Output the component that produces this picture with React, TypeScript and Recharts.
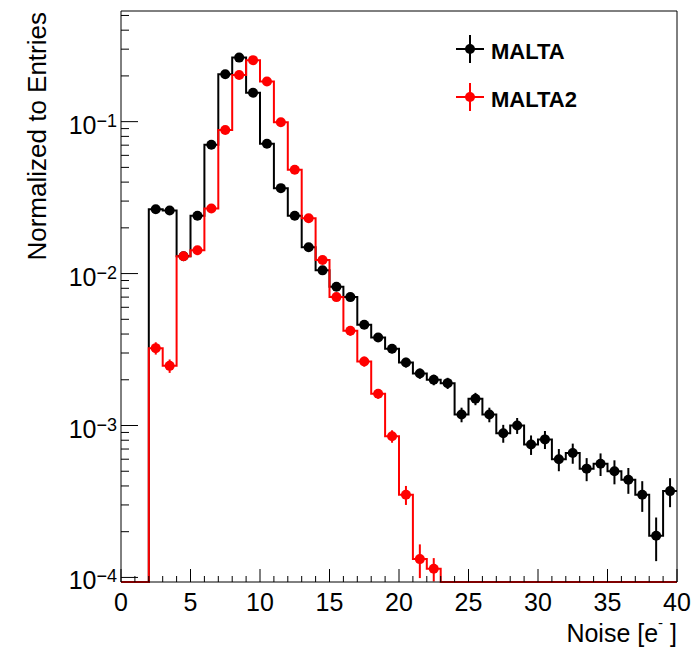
import { ComposedChart, Line, Scatter, XAxis, YAxis, ErrorBar, Legend } from "recharts"

// bin lower edges (width 1) of the noise histogram
const BIN_LOW = [
  0, 1, 2, 3, 4, 5, 6, 7, 8, 9, 10, 11, 12, 13, 14, 15, 16, 17, 18, 19,
  20, 21, 22, 23, 24, 25, 26, 27, 28, 29, 30, 31, 32, 33, 34, 35, 36, 37, 38, 39,
]
const BIN_WIDTH = 1

const MALTA = [
  0, 0, 0.0265, 0.026, 0.013, 0.024, 0.0705, 0.205, 0.264, 0.155,
  0.0715, 0.0365, 0.024, 0.0149, 0.0105, 0.0082, 0.007, 0.0046, 0.0038, 0.0032,
  0.0026, 0.0022, 0.002, 0.0019, 0.00118, 0.0015, 0.00118, 0.00089, 0.001, 0.00075,
  0.00081, 0.0006, 0.00066, 0.00052, 0.00056, 0.0005, 0.00044, 0.00035, 0.000188, 0.00037,
]
const MALTA_ERR = [
  0, 0, 0.0006, 0.0006, 0.0004, 0.0006, 0.0012, 0.002, 0.0023, 0.0018,
  0.0012, 0.0008, 0.0006, 0.0005, 0.0004, 0.00035, 0.0003, 0.00025, 0.00023, 0.00021,
  0.00019, 0.00017, 0.00016, 0.00016, 0.00013, 0.00014, 0.00013, 0.00012, 0.00012, 0.00011,
  0.00011, 0.0001, 0.0001, 0.00009, 0.000095, 0.00009, 0.000085, 0.00008, 0.00006, 0.00008,
]
const MALTA2 = [
  0, 0, 0.00323, 0.00247, 0.013, 0.01425, 0.0268, 0.088, 0.203, 0.254,
  0.184, 0.099, 0.0482, 0.0231, 0.0123, 0.007, 0.0042, 0.00264, 0.00162, 0.00085,
  0.00035, 0.000132, 0.000114, 0, 0, 0, 0, 0, 0, 0,
  0, 0, 0, 0, 0, 0, 0, 0, 0, 0,
]
const MALTA2_ERR = [
  0, 0, 0.0003, 0.00025, 0.0006, 0.0006, 0.0008, 0.0015, 0.0022, 0.0025,
  0.0021, 0.0015, 0.001, 0.0007, 0.0005, 0.0004, 0.0003, 0.0002, 0.00012, 0.00008,
  0.00005, 0.000033, 0.00002, 0, 0, 0, 0, 0, 0, 0,
  0, 0, 0, 0, 0, 0, 0, 0, 0, 0,
]

const Y_MIN = 9.33e-5
const Y_MAX = 0.535
const X_TICKS = Array.from({ length: 41 }, (_, i) => i)
const X_MAJOR = [0, 5, 10, 15, 20, 25, 30, 35, 40]
const DECADES = [1e-4, 1e-3, 1e-2, 1e-1]
const MINOR_MULT = [2, 3, 4, 5, 6, 7, 8, 9]
const Y_TICKS = DECADES.flatMap((d) => [d, ...MINOR_MULT.map((m) => m * d)]).filter((v) => v <= Y_MAX)

const FONT = "'Liberation Sans', Arial, Helvetica, sans-serif"

const SERIES = [
  { name: "MALTA", values: MALTA, errors: MALTA_ERR, color: "#000000" },
  { name: "MALTA2", values: MALTA2, errors: MALTA2_ERR, color: "#ff0000" },
]

// outline of the histogram: value of each bin at its low edge, zero bins sit on the axis floor
function histOutline(vals: number[]) {
  const pts = BIN_LOW.map((lo, i) => ({ x: lo, y: vals[i] > 0 ? vals[i] : Y_MIN }))
  const last = pts[pts.length - 1]
  pts.push({ x: BIN_LOW[BIN_LOW.length - 1] + BIN_WIDTH, y: last.y })
  return pts
}

function binPoints(vals: number[], errs: number[]) {
  return BIN_LOW.map((lo, i) => ({ x: lo + BIN_WIDTH / 2, y: vals[i], err: errs[i] })).filter((p) => p.y > 0)
}

const isDecade = (v: number) => Math.abs(Math.log10(v) - Math.round(Math.log10(v))) < 1e-6

function XTickBottom({ x, y, payload }: any) {
  const major = X_MAJOR.includes(payload.value)
  return (
    <g>
      <line x1={x} x2={x} y1={y} y2={y - (major ? 13 : 6)} stroke="#000" />
      {major && (
        <text x={x} y={y + 29} textAnchor="middle" fontSize={25} fontFamily={FONT} fill="#000">
          {payload.value}
        </text>
      )}
    </g>
  )
}

function XTickTop({ x, y, payload }: any) {
  const major = X_MAJOR.includes(payload.value)
  return <line x1={x} x2={x} y1={y} y2={y + (major ? 13 : 6)} stroke="#000" />
}

function YTickLeft({ x, y, payload }: any) {
  const dec = isDecade(payload.value)
  const exp = Math.round(Math.log10(payload.value))
  return (
    <g>
      <line x1={x} x2={x + (dec ? 17 : 8)} y1={y} y2={y} stroke="#000" />
      {dec && (
        <text x={x - 4} y={y + 12} textAnchor="end" fontSize={25} fontFamily={FONT} fill="#000">
          <tspan>10</tspan>
          <tspan fontSize={18} dy={-7}>{"\u2212" + Math.abs(exp)}</tspan>
        </text>
      )}
    </g>
  )
}

function YTickRight({ x, y, payload }: any) {
  const dec = isDecade(payload.value)
  return <line x1={x} x2={x - (dec ? 17 : 8)} y1={y} y2={y} stroke="#000" />
}

function XTitle({ viewBox }: any) {
  return (
    <text x={viewBox.x + viewBox.width} y={viewBox.y + 60} textAnchor="end" fontSize={25} fontFamily={FONT} fill="#000">
      Noise [e
      <tspan fontSize={15} dy={-14}>-</tspan>
      <tspan dy={14}> ]</tspan>
    </text>
  )
}

function YTitle({ viewBox }: any) {
  const x = viewBox.x + viewBox.width - 75
  const y = viewBox.y + 1
  return (
    <text x={x} y={y} transform={`rotate(-90 ${x} ${y})`} textAnchor="end" fontSize={26} fontFamily={FONT} fill="#000">
      Normalized to Entries
    </text>
  )
}

function LegendBox() {
  return (
    <svg width={694} height={130}>
      {SERIES.map((s, i) => {
        const cy = 49 + i * 48
        return (
          <g key={s.name}>
            <line x1={456} x2={484} y1={cy} y2={cy} stroke={s.color} strokeWidth={2} />
            <line x1={470} x2={470} y1={cy - 14} y2={cy + 14} stroke={s.color} strokeWidth={2} />
            <circle cx={470} cy={cy} r={5} fill={s.color} />
            <text x={491} y={cy + 10} fontSize={22} fontWeight="bold" fontFamily={FONT} fill="#000">
              {s.name}
            </text>
          </g>
        )
      })}
    </svg>
  )
}

export default function App() {
  return (
    <div style={{ position: "absolute", left: 0, top: 0, fontFamily: FONT, background: "#fff" }}>
      <ComposedChart width={694} height={657} margin={{ top: 10, right: 16, bottom: 74, left: 120 }}>
        <XAxis
          dataKey="x"
          type="number"
          domain={[0, 40]}
          ticks={X_TICKS}
          interval={0}
          height={1}
          tickSize={0}
          tickMargin={0}
          tickLine={false}
          axisLine={{ stroke: "#000" }}
          tick={XTickBottom}
          label={<XTitle />}
        />
        <XAxis
          xAxisId="top"
          orientation="top"
          type="number"
          domain={[0, 40]}
          ticks={X_TICKS}
          interval={0}
          height={1}
          tickSize={0}
          tickMargin={0}
          tickLine={false}
          axisLine={{ stroke: "#000" }}
          tick={XTickTop}
        />
        <YAxis
          dataKey="y"
          type="number"
          scale="log"
          domain={[Y_MIN, Y_MAX]}
          ticks={Y_TICKS}
          interval={0}
          width={1}
          tickSize={0}
          tickMargin={0}
          tickLine={false}
          axisLine={{ stroke: "#000" }}
          tick={YTickLeft}
          label={<YTitle />}
        />
        <YAxis
          yAxisId="right"
          orientation="right"
          type="number"
          scale="log"
          domain={[Y_MIN, Y_MAX]}
          ticks={Y_TICKS}
          interval={0}
          width={1}
          tickSize={0}
          tickMargin={0}
          tickLine={false}
          axisLine={{ stroke: "#000" }}
          tick={YTickRight}
        />
        {SERIES.flatMap((s) => [
          <Line
            key={s.name + "-hist"}
            data={histOutline(s.values)}
            dataKey="y"
            type="stepAfter"
            stroke={s.color}
            strokeWidth={2}
            dot={false}
            activeDot={false}
            legendType="none"
            isAnimationActive={false}
          />,
          <Scatter
            key={s.name + "-pts"}
            name={s.name}
            data={binPoints(s.values, s.errors)}
            dataKey="y"
            fill={s.color}
            shape={(p: any) => <circle cx={p.cx} cy={p.cy} r={5} fill={s.color} />}
            isAnimationActive={false}
          >
            <ErrorBar dataKey="err" direction="y" width={0} strokeWidth={2} stroke={s.color} isAnimationActive={false} />
          </Scatter>,
        ])}
        <Legend
          layout="horizontal"
          verticalAlign="middle"
          align="center"
          content={<LegendBox />}
          wrapperStyle={{ position: "absolute", left: 0, top: 0, width: 694, height: 130 }}
        />
      </ComposedChart>
    </div>
  )
}
